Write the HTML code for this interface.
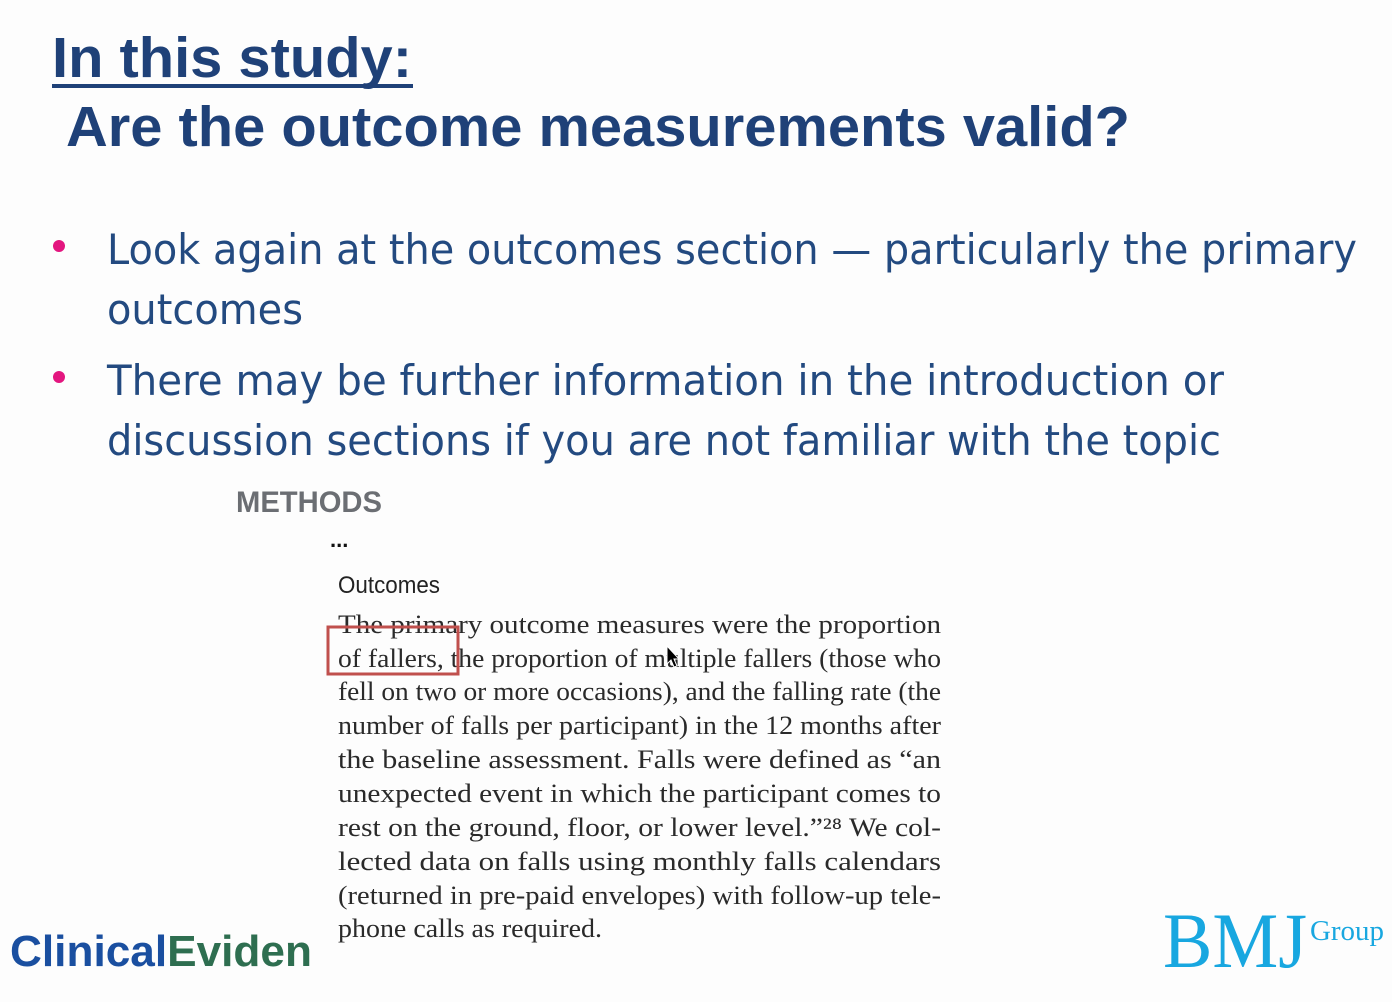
<!DOCTYPE html>
<html><head><meta charset="utf-8"><style>
html,body{margin:0;padding:0;background:#fdfdfd;}
svg{display:block;}
</style></head><body>
<svg width="1392" height="1002" viewBox="0 0 1392 1002" xmlns="http://www.w3.org/2000/svg">
<rect x="0" y="0" width="1392" height="1002" fill="#fdfdfd"/>
<g font-family="Liberation Sans, sans-serif" font-weight="bold" fill="#1f4178">
<text x="52" y="77" font-size="57" textLength="360" lengthAdjust="spacingAndGlyphs">In this study:</text>
<rect x="52" y="84" width="361" height="4" fill="#1f4178"/>
<text x="66" y="146" font-size="57" textLength="1064" lengthAdjust="spacingAndGlyphs">Are the outcome measurements valid?</text>
</g>
<g font-family="DejaVu Sans, Liberation Sans, sans-serif" fill="#234a80" font-size="42">
<circle cx="59" cy="246" r="6" fill="#e3167f"/>
<text x="107" y="264" textLength="1250" lengthAdjust="spacingAndGlyphs">Look again at the outcomes section — particularly the primary</text>
<text x="107" y="324" textLength="196" lengthAdjust="spacingAndGlyphs">outcomes</text>
<circle cx="59" cy="377" r="6" fill="#e3167f"/>
<text x="107" y="395" textLength="1117" lengthAdjust="spacingAndGlyphs">There may be further information in the introduction or</text>
<text x="107" y="455" textLength="1114" lengthAdjust="spacingAndGlyphs">discussion sections if you are not familiar with the topic</text>
</g>
<text x="236" y="512" font-family="Liberation Sans, sans-serif" font-weight="bold" font-size="30" fill="#6b6e73" textLength="146" lengthAdjust="spacingAndGlyphs">METHODS</text>
<text x="330" y="547" font-family="Liberation Sans, sans-serif" font-weight="bold" font-size="22" fill="#111">...</text>
<text x="338" y="593" font-family="Liberation Sans, sans-serif" font-size="24" fill="#222" textLength="102" lengthAdjust="spacingAndGlyphs">Outcomes</text>
<g font-family="Liberation Serif, serif" font-size="26" fill="#2a2a2a">
<text x="338" y="633" textLength="603" lengthAdjust="spacingAndGlyphs">The primary outcome measures were the proportion</text>
<text x="338" y="667" textLength="603" lengthAdjust="spacingAndGlyphs">of fallers, the proportion of multiple fallers (those who</text>
<text x="338" y="700" textLength="603" lengthAdjust="spacingAndGlyphs">fell on two or more occasions), and the falling rate (the</text>
<text x="338" y="734" textLength="603" lengthAdjust="spacingAndGlyphs">number of falls per participant) in the 12 months after</text>
<text x="338" y="768" textLength="603" lengthAdjust="spacingAndGlyphs">the baseline assessment. Falls were defined as “an</text>
<text x="338" y="802" textLength="603" lengthAdjust="spacingAndGlyphs">unexpected event in which the participant comes to</text>
<text x="338" y="836" textLength="603" lengthAdjust="spacingAndGlyphs">rest on the ground, floor, or lower level.”²⁸ We col-</text>
<text x="338" y="870" textLength="603" lengthAdjust="spacingAndGlyphs">lected data on falls using monthly falls calendars</text>
<text x="338" y="904" textLength="603" lengthAdjust="spacingAndGlyphs">(returned in pre-paid envelopes) with follow-up tele-</text>
<text x="338" y="937" textLength="264" lengthAdjust="spacingAndGlyphs">phone calls as required.</text>
</g>
<rect x="328" y="627" width="130" height="47" fill="none" stroke="#c0504d" stroke-width="3"/>
<path d="M667,646 L667,664 L671,660 L674,667 L677,666 L674,659 L679,659 Z" fill="#000" stroke="#fff" stroke-width="1"/>
<text x="10" y="966" font-family="Liberation Sans, sans-serif" font-weight="bold" font-size="44" textLength="302" lengthAdjust="spacingAndGlyphs"><tspan fill="#1a4fa0">Clinical</tspan><tspan fill="#2e6e50">Eviden</tspan></text>
<text x="1163" y="967" font-family="Liberation Serif, serif" font-size="78" fill="#18a7e0" textLength="144" lengthAdjust="spacingAndGlyphs">BMJ</text>
<text x="1310" y="940" font-family="Liberation Serif, serif" font-size="29" fill="#18a7e0" textLength="74" lengthAdjust="spacingAndGlyphs">Group</text>
</svg>
</body></html>
